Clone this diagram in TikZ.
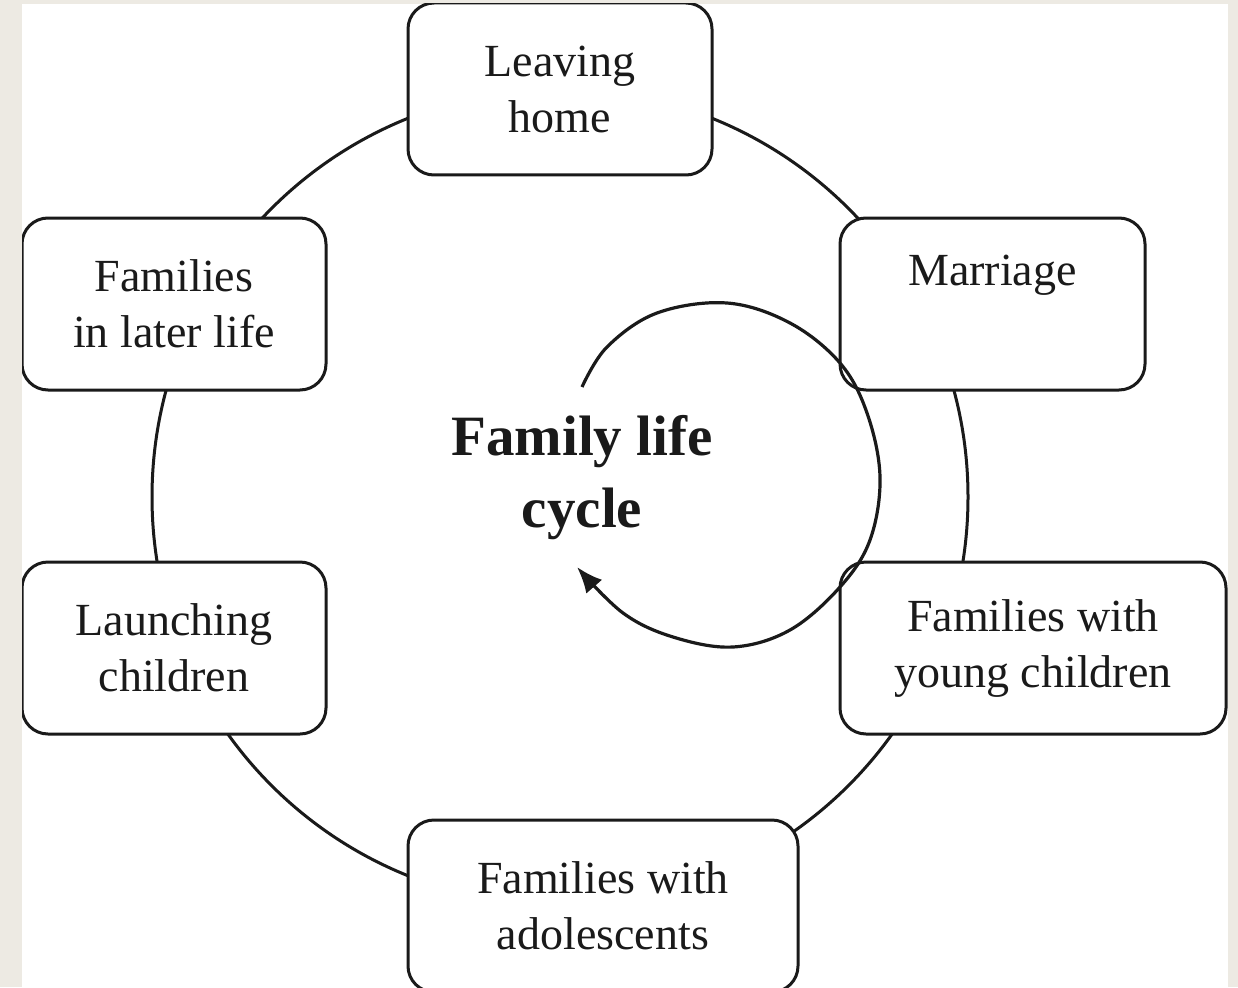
\documentclass[tikz,border=0pt]{standalone}
\usepackage{fontspec}
\setmainfont{Liberation Serif}
\usetikzlibrary{arrows.meta}
\definecolor{bgbeige}{HTML}{EDEAE3}
\definecolor{ink}{HTML}{1A1A1A}
\tikzset{
  stage/.style={draw=ink, line width=3pt, rounded corners=26pt, fill=white,
    align=center, inner sep=0pt, font=\fontsize{46}{56}\selectfont, text=ink},
  ring/.style={draw=ink, line width=3pt},
  cyclearrow/.style={draw=ink, line width=3.2pt, -{Latex[length=26pt,width=21pt]}},
  title/.style={align=center, font=\bfseries\fontsize{57}{72}\selectfont, text=ink}
}
\begin{document}
\begin{tikzpicture}[x=1pt,y=-1pt]
\useasboundingbox (0,0) rectangle (1238,987);
\fill[bgbeige] (0,0) rectangle (1238,987);
\fill[white] (22,4) rectangle (1228,987);
\begin{scope}
\clip (22,4) rectangle (1228,987);
% outer ring behind the stages
\draw[ring] (560,497) circle[radius=408];
% stages
\node[stage, minimum width=304, minimum height=172] (leave) at (560,89) {Leaving\\home};
\node[stage, minimum width=305, minimum height=172] (marr) at (992.5,304) {\raisebox{-6pt}{Marriage}\\\strut};
\node[stage, minimum width=386, minimum height=172] (young) at (1033,648) {Families with\\young children};
\node[stage, minimum width=390, minimum height=172] (adol) at (603,906) {Families with\\adolescents};
\node[stage, minimum width=304, minimum height=172] (launch) at (174,648) {Launching\\children};
\node[stage, minimum width=304, minimum height=172] (later) at (174,304) {Families\\in later life};
\end{scope}
% centre title
\node[title] (centre) at (582,478) {Family life\\cycle};
% cycle arrow
\draw[cyclearrow] plot[smooth, tension=0.6] coordinates {(582,387) (607,347) (657,313) (727,303) (790,323) (840,363) (867,413) (880,477) (870,540) (840,587) (790,630) (733,647) (673,637) (623,613) (577,567)};
\end{tikzpicture}
\end{document}
